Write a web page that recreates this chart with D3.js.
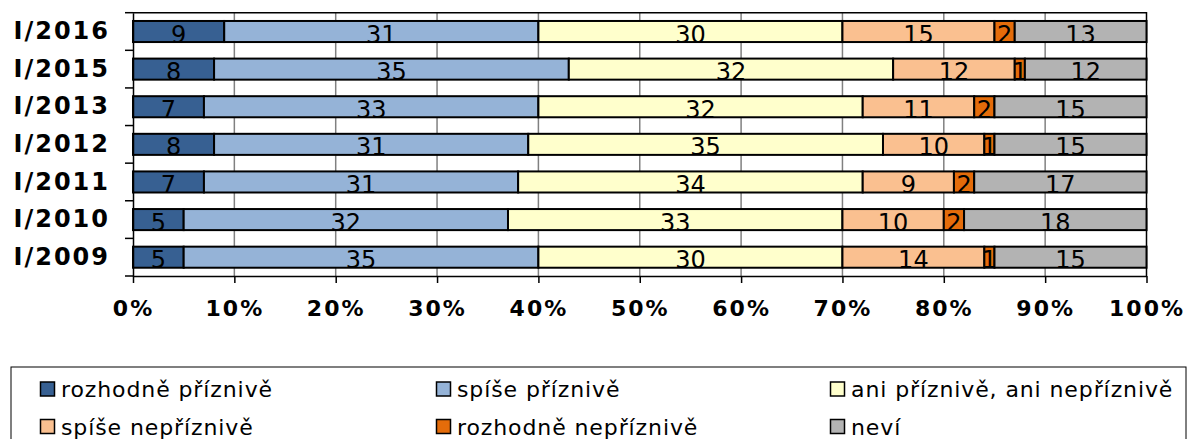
<!DOCTYPE html>
<html>
<head>
<meta charset="utf-8">
<script src="https://cdn.jsdelivr.net/npm/d3@7"></script>
<style>
  body { margin: 0; background: #fff; }
  svg { display: block; }
</style>
</head>
<body>
<script>
// Data (percent, each row adds up to 100)
var years = ["I/2016", "I/2015", "I/2013", "I/2012", "I/2011", "I/2010", "I/2009"];
var seriesNames = ["rozhodně příznivě", "spíše příznivě", "ani příznivě, ani nepříznivě",
                   "spíše nepříznivě", "rozhodně nepříznivě", "neví"];
var rozhodnePriznive = [9, 8, 7, 8, 7, 5, 5];
var spisePriznive    = [31, 35, 33, 31, 31, 32, 35];
var aniAni           = [30, 32, 32, 35, 34, 33, 30];
var spiseNepriznive  = [15, 12, 11, 10, 9, 10, 14];
var rozhodneNeprizn  = [2, 1, 2, 1, 2, 2, 1];
var nevi             = [13, 12, 15, 15, 17, 18, 15];
var xTicks = [0, 10, 20, 30, 40, 50, 60, 70, 80, 90, 100];

var colors = ["#376092", "#95b3d7", "#ffffcc", "#fac090", "#e46c0a", "#b3b3b3"];

var width = 1189, height = 439;
var plotLeft = 133, plotRight = 1146.5, plotTop = 12.7, plotBottom = 276;

// table for d3.stack
var seriesValues = [rozhodnePriznive, spisePriznive, aniAni, spiseNepriznive, rozhodneNeprizn, nevi];
var table = years.map(function(yr, i) {
  var row = { year: yr };
  seriesNames.forEach(function(s, k) { row[s] = seriesValues[k][i]; });
  return row;
});
var stacked = d3.stack().keys(seriesNames)(table);

var svg = d3.select("body").append("svg")
  .attr("width", width)
  .attr("height", height);

var x = d3.scaleLinear().domain([0, 100]).range([plotLeft, plotRight]);
var y = d3.scaleBand().domain(years).range([plotTop, plotBottom]).paddingInner(0.44).paddingOuter(0.22);

// vertical gridlines
svg.append("g").selectAll("line")
  .data(xTicks.slice(1, -1))
  .enter().append("line")
  .attr("x1", d => x(d)).attr("x2", d => x(d))
  .attr("y1", plotTop).attr("y2", plotBottom)
  .attr("stroke", "#808080")
  .attr("stroke-width", 1.5);

// top and right border of plot area
svg.append("path")
  .attr("d", "M" + plotLeft + "," + plotTop + "H" + plotRight + "V" + plotBottom)
  .attr("fill", "none")
  .attr("stroke", "#000")
  .attr("stroke-width", 1.5);

// bars
var groups = svg.append("g").selectAll("g")
  .data(stacked)
  .enter().append("g")
  .attr("fill", (d, i) => colors[i]);

groups.selectAll("rect")
  .data(d => d)
  .enter().append("rect")
  .attr("x", d => x(d[0]))
  .attr("y", d => y(d.data.year))
  .attr("width", d => x(d[1]) - x(d[0]))
  .attr("height", y.bandwidth())
  .attr("stroke", "#000")
  .attr("stroke-width", 2);

// value labels
groups.selectAll("text")
  .data(d => d)
  .enter().append("text")
  .attr("x", d => (x(d[0]) + x(d[1])) / 2)
  .attr("y", d => y(d.data.year) + y.bandwidth() + 0.5)
  .attr("text-anchor", "middle")
  .attr("font-family", "DejaVu Sans, Verdana, sans-serif")
  .attr("font-size", 24)
  .attr("fill", "#000")
  .text(d => d[1] - d[0]);

// y axis
var yAxis = svg.append("g")
  .attr("transform", "translate(" + plotLeft + ",0)")
  .call(d3.axisLeft(y).tickSize(0).tickPadding(23));
yAxis.select(".domain").attr("stroke", "#000").attr("stroke-width", 1.5);
yAxis.selectAll("text")
  .attr("font-family", "DejaVu Sans, Verdana, sans-serif")
  .attr("font-weight", "bold")
  .attr("font-size", 24)
  .attr("letter-spacing", 2)
  .attr("fill", "#000");

// tick marks sit between the categories
var bounds = years.map(d => y(d) - y.step() * y.paddingInner() / 2);
bounds.push(plotBottom);
svg.append("g").selectAll("line")
  .data(bounds)
  .enter().append("line")
  .attr("x1", plotLeft - 8).attr("x2", plotLeft)
  .attr("y1", d => d).attr("y2", d => d)
  .attr("stroke", "#000")
  .attr("stroke-width", 1.5);

// x axis
var xAxis = svg.append("g")
  .attr("transform", "translate(0," + plotBottom + ")")
  .call(d3.axisBottom(x).tickValues(xTicks).tickFormat(d => d + "%").tickSize(7).tickPadding(17).tickSizeOuter(0));
xAxis.select(".domain").attr("stroke", "#000").attr("stroke-width", 1.5);
xAxis.selectAll(".tick line").attr("stroke", "#000").attr("stroke-width", 1.5);
xAxis.selectAll("text")
  .attr("font-family", "DejaVu Sans, Verdana, sans-serif")
  .attr("font-weight", "bold")
  .attr("font-size", 22)
  .attr("letter-spacing", 2)
  .attr("fill", "#000");

// legend
svg.append("rect")
  .attr("x", 11).attr("y", 367)
  .attr("width", 1175).attr("height", 100)
  .attr("fill", "#fff")
  .attr("stroke", "#000")
  .attr("stroke-width", 1);

var legendX = [40, 436, 830];
var legendY = [389, 426.5];
var items = svg.append("g").selectAll("g")
  .data(seriesNames)
  .enter().append("g")
  .attr("transform", (d, i) => "translate(" + legendX[i % 3] + "," + legendY[Math.floor(i / 3)] + ")");

items.append("rect")
  .attr("x", 0.5).attr("y", -7)
  .attr("width", 14).attr("height", 14)
  .attr("fill", (d, i) => colors[i])
  .attr("stroke", "#000")
  .attr("stroke-width", 1.5);

items.append("text")
  .attr("x", 21)
  .attr("y", 8)
  .attr("font-family", "DejaVu Sans, Verdana, sans-serif")
  .attr("font-size", 22)
  .attr("letter-spacing", 0.9)
  .attr("fill", "#000")
  .text(d => d);
</script>
</body>
</html>
